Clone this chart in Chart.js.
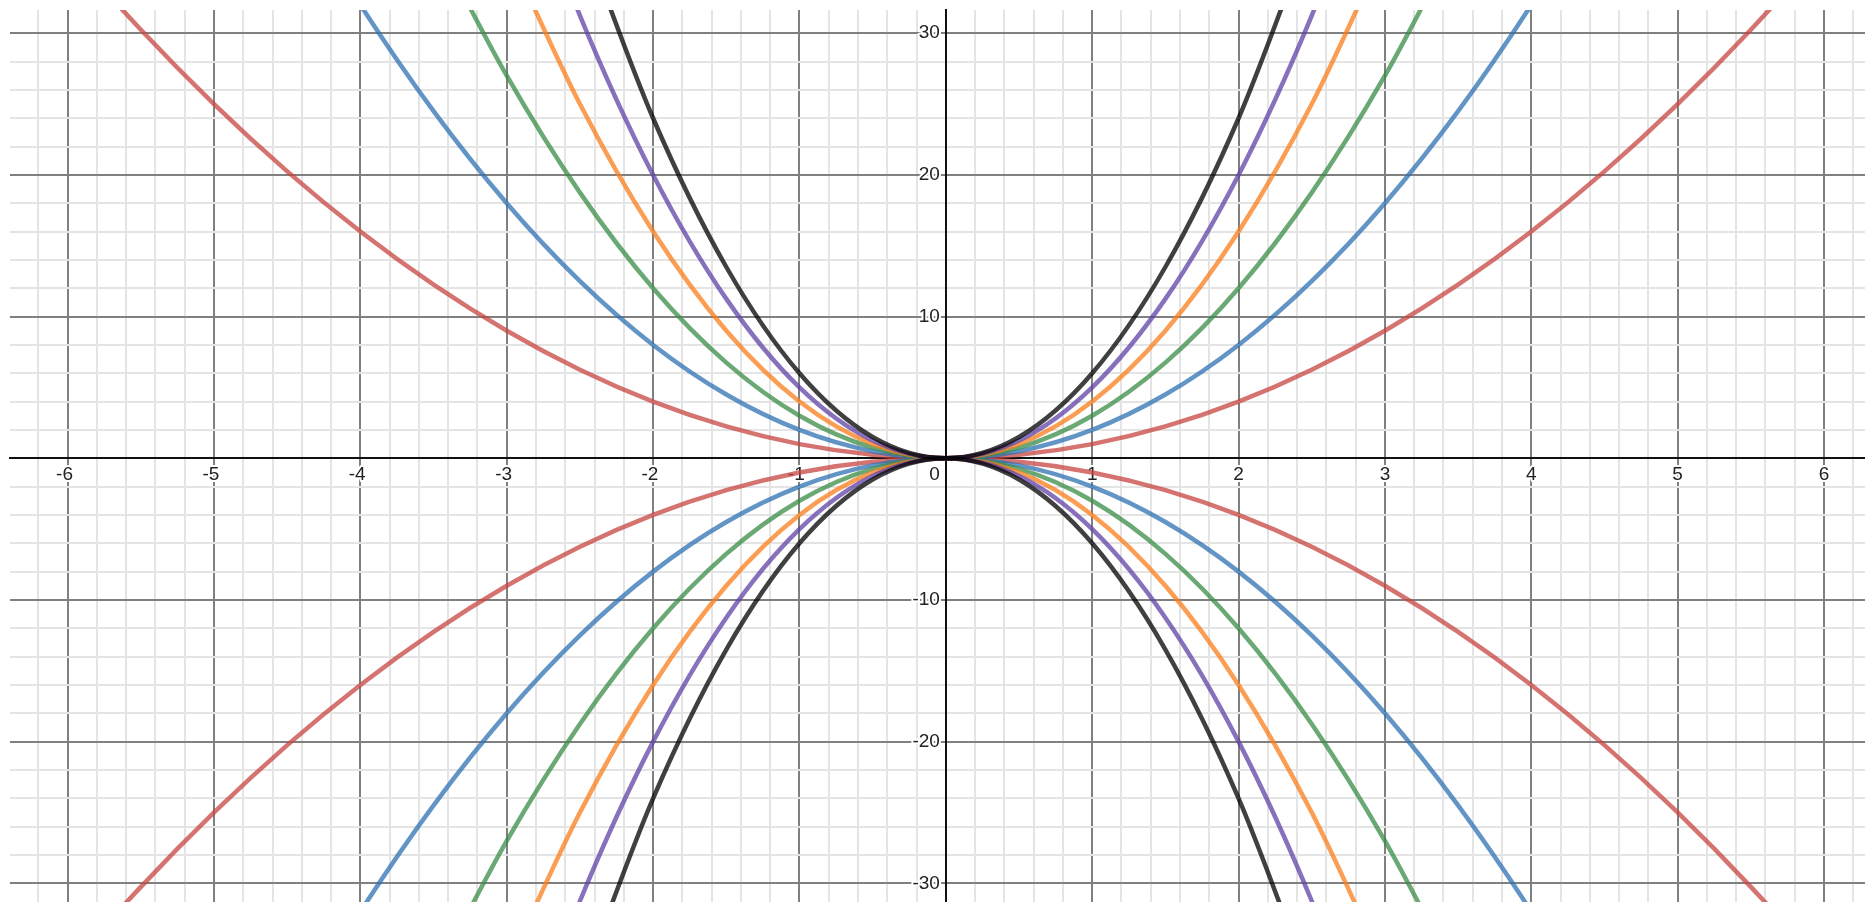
<!DOCTYPE html>
<html>
<head>
<meta charset="utf-8">
<script src="https://cdn.jsdelivr.net/npm/chart.js@4/dist/chart.umd.min.js"></script>
<style>
  html, body { margin: 0; padding: 0; background: #fff; }
  canvas { display: block; }
</style>
</head>
<body>
<canvas id="graph" width="1865" height="902"></canvas>
<script>
// Visible window of the graph
const X_MIN = -6.394, X_MAX = 6.28;
const Y_MIN = -31.32, Y_MAX = 31.64;

// Axis labels
const xLabels = [-6, -5, -4, -3, -2, -1, 0, 1, 2, 3, 4, 5, 6];
const yLabels = [30, 20, 10, -10, -20, -30];

// Sample points (upper and lower branch share x)
const xBlack  = [-2.5, -2, -1.5, -1, -0.5, 0, 0.5, 1, 1.5, 2, 2.5];
const yBlackUp  = [37.5, 24, 13.5, 6, 1.5, 0, 1.5, 6, 13.5, 24, 37.5];
const yBlackLow = [-37.5, -24, -13.5, -6, -1.5, 0, -1.5, -6, -13.5, -24, -37.5];

const xPurple = [-3, -2.5, -2, -1.5, -1, -0.5, 0, 0.5, 1, 1.5, 2, 2.5, 3];
const yPurpleUp  = [45, 31.25, 20, 11.25, 5, 1.25, 0, 1.25, 5, 11.25, 20, 31.25, 45];
const yPurpleLow = [-45, -31.25, -20, -11.25, -5, -1.25, 0, -1.25, -5, -11.25, -20, -31.25, -45];

const xOrange = [-3, -2.5, -2, -1.5, -1, -0.5, 0, 0.5, 1, 1.5, 2, 2.5, 3];
const yOrangeUp  = [36, 25, 16, 9, 4, 1, 0, 1, 4, 9, 16, 25, 36];
const yOrangeLow = [-36, -25, -16, -9, -4, -1, 0, -1, -4, -9, -16, -25, -36];

const xGreen = [-3.5, -3, -2.5, -2, -1.5, -1, -0.5, 0, 0.5, 1, 1.5, 2, 2.5, 3, 3.5];
const yGreenUp  = [36.75, 27, 18.75, 12, 6.75, 3, 0.75, 0, 0.75, 3, 6.75, 12, 18.75, 27, 36.75];
const yGreenLow = [-36.75, -27, -18.75, -12, -6.75, -3, -0.75, 0, -0.75, -3, -6.75, -12, -18.75, -27, -36.75];

const xBlue = [-4.5, -4, -3.5, -3, -2.5, -2, -1.5, -1, -0.5, 0, 0.5, 1, 1.5, 2, 2.5, 3, 3.5, 4, 4.5];
const yBlueUp  = [40.5, 32, 24.5, 18, 12.5, 8, 4.5, 2, 0.5, 0, 0.5, 2, 4.5, 8, 12.5, 18, 24.5, 32, 40.5];
const yBlueLow = [-40.5, -32, -24.5, -18, -12.5, -8, -4.5, -2, -0.5, 0, -0.5, -2, -4.5, -8, -12.5, -18, -24.5, -32, -40.5];

const xRed = [-6.5, -6, -5.5, -5, -4.5, -4, -3.5, -3, -2.5, -2, -1.5, -1, -0.5, 0, 0.5, 1, 1.5, 2, 2.5, 3, 3.5, 4, 4.5, 5, 5.5, 6, 6.5];
const yRedUp  = [42.25, 36, 30.25, 25, 20.25, 16, 12.25, 9, 6.25, 4, 2.25, 1, 0.25, 0, 0.25, 1, 2.25, 4, 6.25, 9, 12.25, 16, 20.25, 25, 30.25, 36, 42.25];
const yRedLow = [-42.25, -36, -30.25, -25, -20.25, -16, -12.25, -9, -6.25, -4, -2.25, -1, -0.25, 0, -0.25, -1, -2.25, -4, -6.25, -9, -12.25, -16, -20.25, -25, -30.25, -36, -42.25];

const curves = [
  { xs: xBlack,  up: yBlackUp,  low: yBlackLow,  color: 'rgba(0, 0, 0, 0.75)' },
  { xs: xPurple, up: yPurpleUp, low: yPurpleLow, color: 'rgba(96, 66, 166, 0.75)' },
  { xs: xOrange, up: yOrangeUp, low: yOrangeLow, color: 'rgba(250, 126, 25, 0.75)' },
  { xs: xGreen,  up: yGreenUp,  low: yGreenLow,  color: 'rgba(56, 140, 70, 0.75)' },
  { xs: xBlue,   up: yBlueUp,   low: yBlueLow,   color: 'rgba(45, 112, 179, 0.75)' },
  { xs: xRed,    up: yRedUp,    low: yRedLow,    color: 'rgba(199, 68, 64, 0.75)' },
];

const toPoints = (xs, ys) => xs.map((x, i) => ({ x, y: ys[i] }));

const datasets = [];
curves.forEach(c => {
  [c.up, c.low].forEach(ys => {
    datasets.push({
      data: toPoints(c.xs, ys),
      borderColor: c.color,
      borderWidth: 4.5,
      pointRadius: 0,
      fill: false,
      cubicInterpolationMode: 'monotone',
      clip: 0,
    });
  });
});

const isWhole = (v, step) => Math.abs(v / step - Math.round(v / step)) < 1e-6;

function gridColor(step) {
  return ctx => {
    const v = ctx.tick.value;
    if (Math.abs(v) < 1e-6) return '#111';
    return isWhole(v, step) ? '#808080' : '#e4e4e4';
  };
}

// Numbers along the axes, drawn under the curves with a white halo
const axisLabels = {
  id: 'axisLabels',
  beforeDatasetsDraw(chart) {
    const { ctx, scales } = chart;
    const xs = scales.x, ys = scales.y;
    const x0 = xs.getPixelForValue(0), y0 = ys.getPixelForValue(0);
    ctx.save();
    ctx.font = '19px "Liberation Sans", Arial, sans-serif';
    ctx.textBaseline = 'middle';
    ctx.lineJoin = 'round';
    ctx.lineWidth = 4;
    ctx.strokeStyle = '#fff';
    ctx.fillStyle = '#222';
    const minusW = ctx.measureText('-').width;

    xLabels.forEach(v => {
      const text = String(v);
      let px = xs.getPixelForValue(v);
      if (v === 0) {
        ctx.textAlign = 'right';
        px = x0 - 6;
      } else {
        ctx.textAlign = 'center';
        if (v < 0) px -= minusW / 2;
      }
      const py = y0 + 16;
      ctx.strokeText(text, px, py);
      ctx.fillText(text, px, py);
    });

    ctx.textAlign = 'right';
    yLabels.forEach(v => {
      const text = String(v);
      const py = ys.getPixelForValue(v);
      ctx.strokeText(text, x0 - 6, py);
      ctx.fillText(text, x0 - 6, py);
    });
    ctx.restore();
  }
};

new Chart(document.getElementById('graph'), {
  type: 'line',
  data: { datasets },
  options: {
    responsive: false,
    animation: false,
    devicePixelRatio: 1,
    layout: { padding: { left: 10, top: 10, right: 0, bottom: 0 } },
    plugins: {
      legend: { display: false },
      tooltip: { enabled: false },
    },
    scales: {
      x: {
        type: 'linear',
        min: X_MIN,
        max: X_MAX,
        position: { y: 0 },
        ticks: { display: false, stepSize: 0.2, includeBounds: false, autoSkip: false, maxTicksLimit: 1000 },
        grid: { color: gridColor(1), lineWidth: 2, drawTicks: false },
        border: { display: true, color: '#111', width: 2 },
      },
      y: {
        type: 'linear',
        min: Y_MIN,
        max: Y_MAX,
        position: { x: 0 },
        ticks: { display: false, stepSize: 2, includeBounds: false, autoSkip: false, maxTicksLimit: 1000 },
        grid: { color: gridColor(10), lineWidth: 2, drawTicks: false },
        border: { display: true, color: '#111', width: 2 },
      },
    },
  },
  plugins: [axisLabels],
});
</script>
</body>
</html>
